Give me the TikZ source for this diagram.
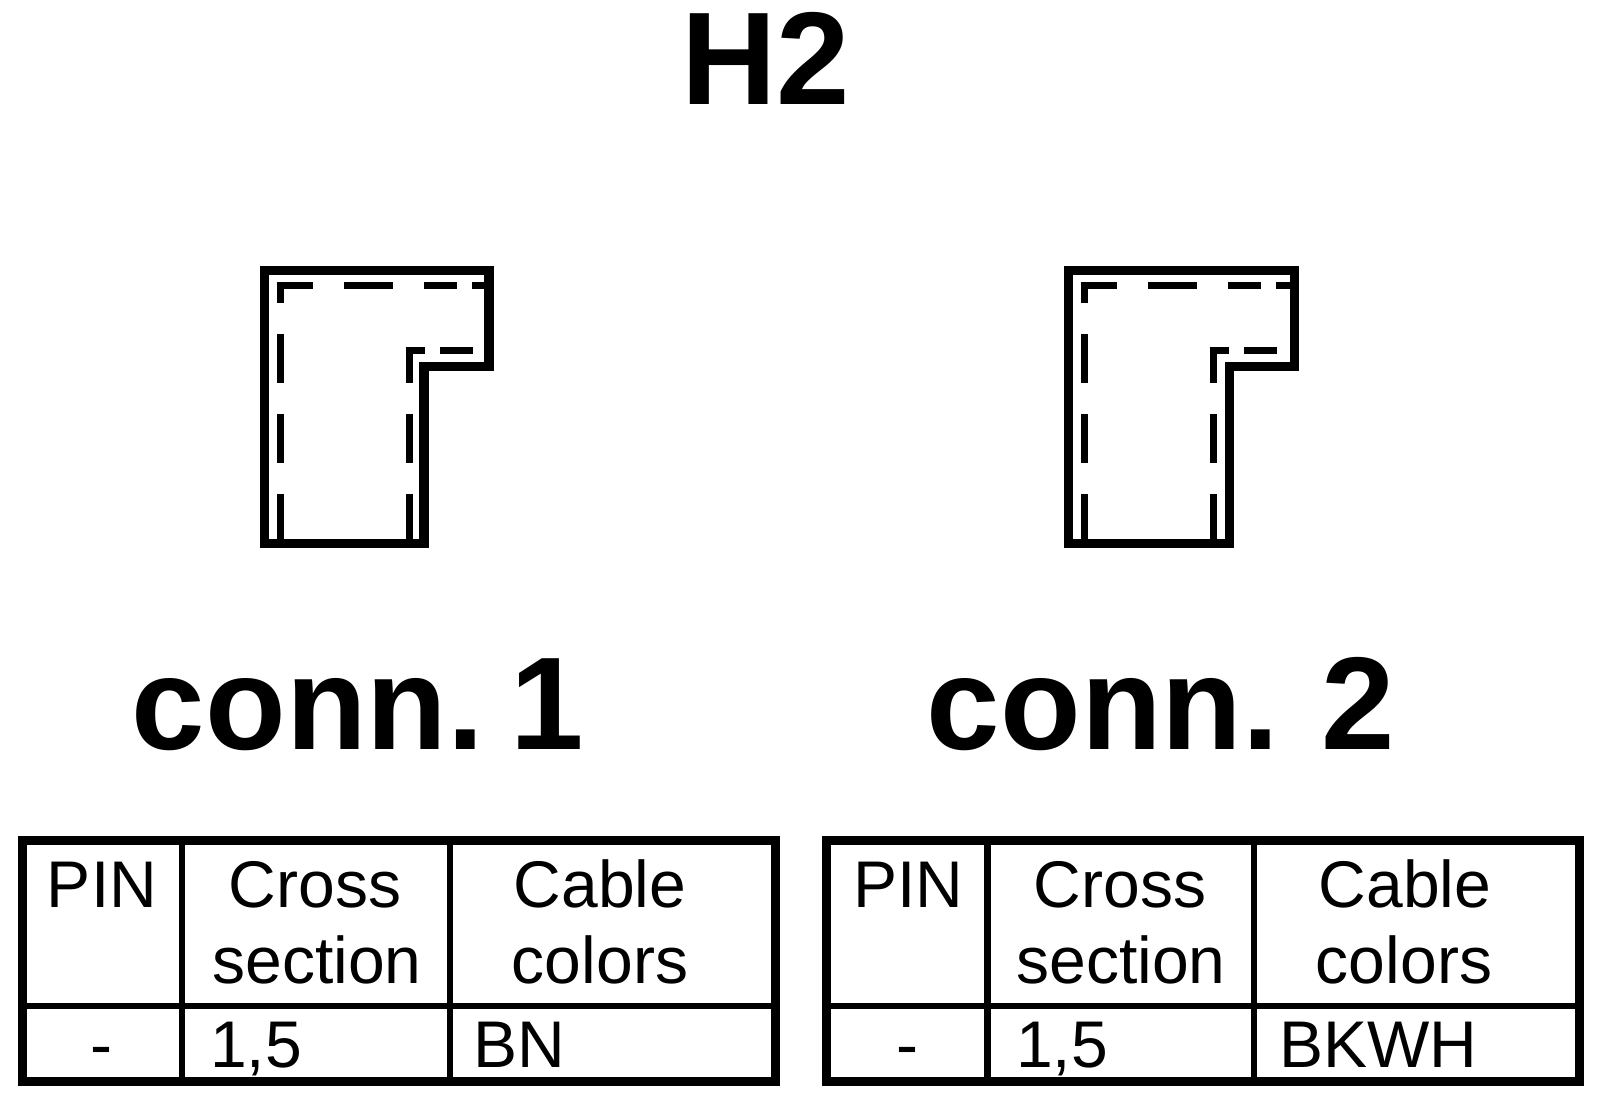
\documentclass[tikz,border=0pt]{standalone}
\usepackage{fontspec}
\setmainfont{Liberation Sans}
\tikzset{
  x=1pt,y=-1pt,
  bigtxt/.style={inner sep=0pt,anchor=base,font=\fontsize{132}{132}\selectfont\bfseries},
  cell/.style={inner sep=0pt,anchor=base,font=\fontsize{66}{66}\selectfont},
  cellL/.style={cell,anchor=base west},
  outline/.style={line width=9.5pt,line join=miter,draw=black},
  dashseg/.style={line width=7pt,line cap=butt,draw=black},
  tableouter/.style={line width=9pt,draw=black},
  tableinner/.style={line width=6.5pt,draw=black}
}
\newcommand{\connshape}[2]{%
  \begin{scope}[xshift=#1pt]
    \draw[outline] (264.5,270.5) -- ({489+#2},270.5) -- ({489+#2},366.3) -- ({424+#2},366.3) -- ({424+#2},543.3) -- (264.5,543.3) -- cycle;
    \foreach \xa in {280,409}{
      \draw[dashseg] (\xa,494) -- (\xa,540);
      \draw[dashseg] (\xa,414) -- (\xa,463);
    }
    \draw[dashseg] (280,334) -- (280,383);
    \draw[dashseg] (409,347) -- (409,383);
    \draw[dashseg] (280,303) -- (280,282);
    \draw[dashseg] (276.5,285.5) -- (313,285.5);
    \draw[dashseg] (344,285.5) -- (393,285.5);
    \draw[dashseg] (424,285.5) -- (457,285.5);
    \draw[dashseg] (472,285.5) -- (486,285.5);
    \draw[dashseg] (405.5,350) -- (425,350);
    \draw[dashseg] (440,350) -- (473,350);
  \end{scope}}
\newcommand{\conntable}[4]{%
  \draw[tableouter] (#1,840.5) rectangle (#2,1081.5);
  \draw[tableinner] (#3,840.5) -- (#3,1081.5);
  \draw[tableinner] (#4,840.5) -- (#4,1081.5);
  \draw[tableinner] (#1,1006) -- (#2,1006);}
\begin{document}
\begin{tikzpicture}
\useasboundingbox (0,0) rectangle (1600,1094);
\fill[white] (0,0) rectangle (1600,1094);
\node[bigtxt] (title) at (766,105) {H2};
\connshape{0}{0}
\connshape{804}{1.5}
\node[bigtxt] (conna) at (358,749) {conn.\kern-10pt\ 1};
\node[bigtxt] (connb) at (1161,749) {conn.\kern6pt\ 2};
\conntable{22.5}{775}{182}{450}
\conntable{826.5}{1579.5}{987.5}{1254}
\node[cell] (pa) at (102,907) {PIN};
\node[cell] (ca) at (315,907) {Cross};
\node[cell] (sa) at (317,983) {section};
\node[cell] (la) at (600,907) {Cable};
\node[cell] (oa) at (600,983) {colors};
\node[cell] (da) at (101,1067) {-};
\node[cellL] (va) at (210,1067) {1,5};
\node[cellL] (ba) at (473,1067) {BN};
\node[cell] (pb) at (908,907) {PIN};
\node[cell] (cb) at (1120,907) {Cross};
\node[cell] (sb) at (1121,983) {section};
\node[cell] (lb) at (1405,907) {Cable};
\node[cell] (ob) at (1404,983) {colors};
\node[cell] (db) at (907,1067) {-};
\node[cellL] (vb) at (1016,1067) {1,5};
\node[cellL] (bb) at (1279,1067) {BKWH};
\end{tikzpicture}
\end{document}
